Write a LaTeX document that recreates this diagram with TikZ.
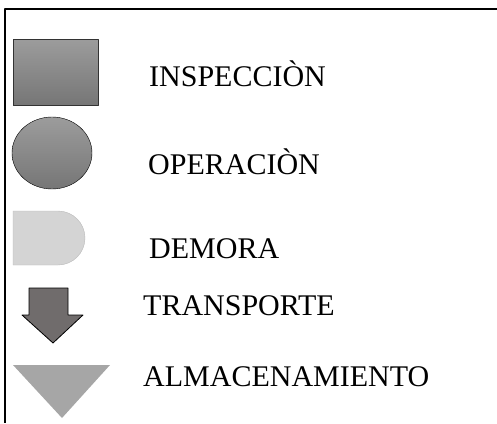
\documentclass[tikz,border=0pt]{standalone}
\usepackage{fontspec}
\setmainfont{Liberation Serif}
\definecolor{boxtop}{RGB}{156,156,156}
\definecolor{boxbot}{RGB}{118,118,118}
\definecolor{delayfill}{RGB}{212,212,212}
\definecolor{delayline}{RGB}{185,185,185}
\definecolor{movefill}{RGB}{112,108,108}
\definecolor{storefill}{RGB}{166,166,166}
\begin{document}
\begin{tikzpicture}[x=1pt,y=-1pt,line join=round,
	label/.style={anchor=base west,inner sep=0pt,font=\fontsize{30}{36}\selectfont},
	grad/.style={top color=boxtop,bottom color=boxbot}]
	\useasboundingbox (0,0) rectangle (497,423);
	\draw[line width=2.5pt] (497,9)--(5,9)--(5,423);
	\draw[grad,draw=black!80,thick] (13,39) rectangle (98,105);
	\draw[grad,draw=black] (52,153) ellipse (40 and 36);
	\draw[fill=delayfill,draw=delayline] (13,211)--(58,211) arc(-90:90:27 and 27)--(13,265)--cycle;
	\draw[fill=movefill,draw=black,thick] (29,288)--(68,288)--(68,315)--(83,315)--(53,343)--(22,315)--(29,315)--cycle;
	\fill[storefill] (13,365)--(110,365)--(62,418)--cycle;
	\node[label] (insp) at (149,86) {INSPECCIÒN};
	\node[label] (oper) at (148,174) {OPERACIÒN};
	\node[label] (dem) at (149,258) {DEMORA};
	\node[label] (trans) at (143,315) {TRANSPORTE};
	\node[label] (alm) at (143,386) {ALMACENAMIENTO};
\end{tikzpicture}
\end{document}
